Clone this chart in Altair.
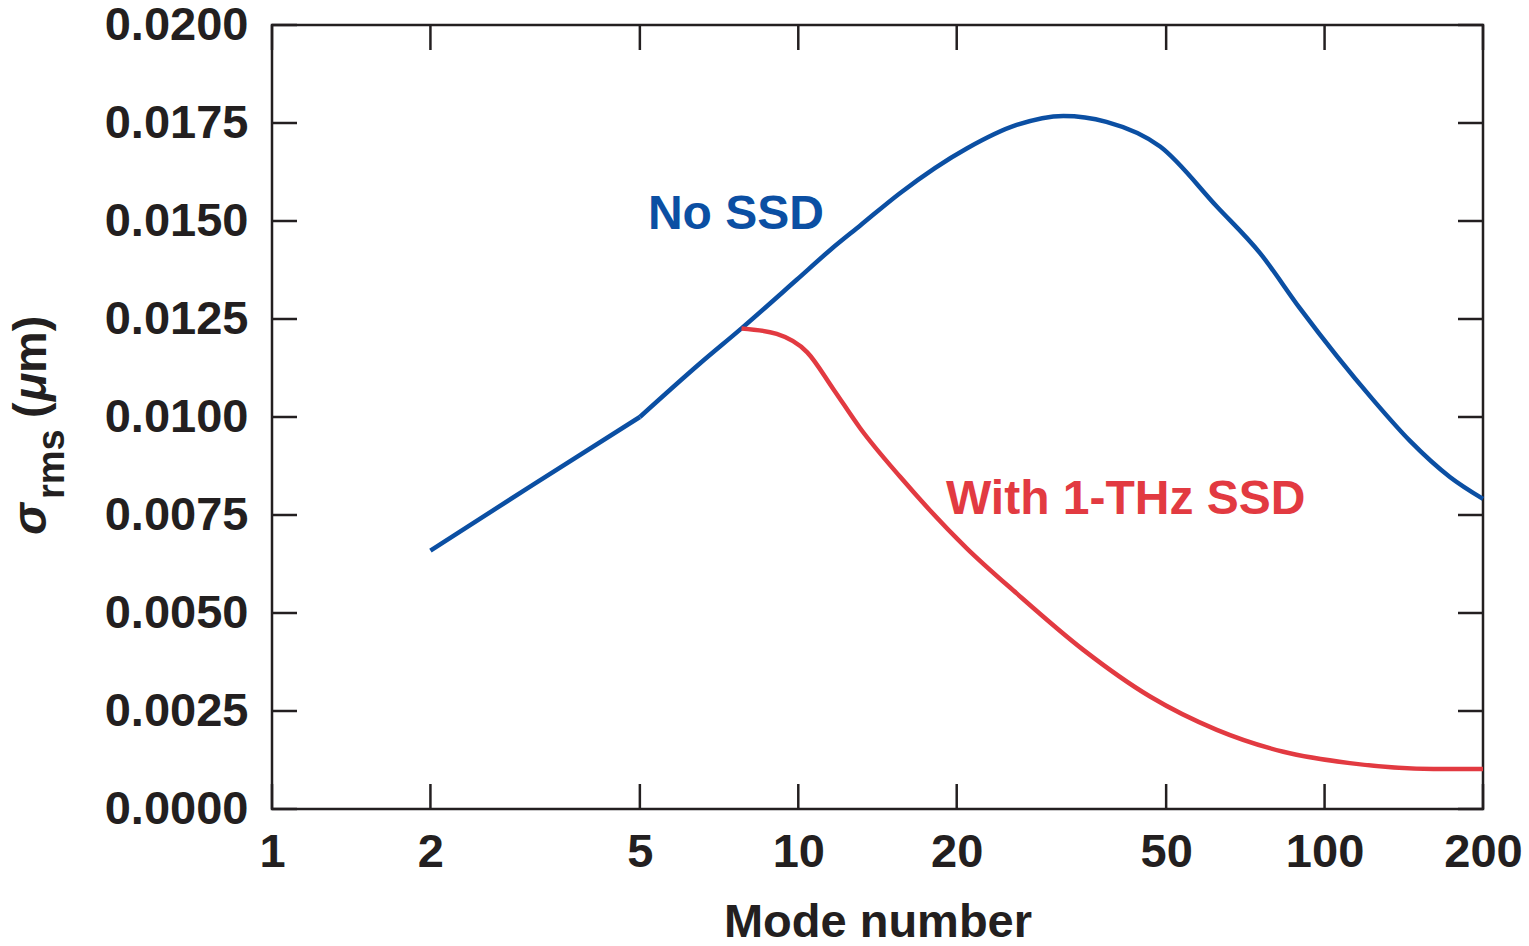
import altair as alt
import pandas as pd

# ---- data ----
# No SSD: nearly straight rise from mode 2 to 5, then a smooth hump
no_ssd_mode = [2, 3.13, 5, 6.51, 7.8, 9.93, 11.5, 13.1, 15.6, 20.9, 26.0, 31.9,
               38.5, 48.7, 62.4, 75.4, 89.8, 123.8, 145.3, 173, 200]
no_ssd_val = [0.00659, 0.00827, 0.0100, 0.01137, 0.01226, 0.0135, 0.01426,
              0.01488, 0.01571, 0.01685, 0.01745, 0.01768, 0.01753, 0.01690, 0.01537,
              0.01418, 0.01277, 0.01043, 0.00939, 0.00847, 0.00791]

ssd_mode = [7.8, 9.1, 10.4, 11.66, 13.1, 15.6, 20.9, 26.0, 34.8, 46.6, 62.4,
            83.5, 111.7, 161, 200]
ssd_val = [0.01226, 0.01212, 0.01165, 0.01071, 0.00972, 0.00848, 0.00665,
           0.00550, 0.00406, 0.00287, 0.00202, 0.00146, 0.00117, 0.00102, 0.00102]

x_ticks = [1, 2, 5, 10, 20, 50, 100, 200]
y_ticks = [0.0, 0.0025, 0.005, 0.0075, 0.01, 0.0125, 0.015, 0.0175, 0.02]

label_text = ["No SSD", "With 1-THz SSD"]
label_mode = [5.18, 19.08]
label_val = [0.014796, 0.007525]

BLUE = "#0b4fa3"
RED = "#e23a41"
INK = "#231f20"
FONT = "Liberation Sans"
W, H = 1211, 784
TL = 25

xs = alt.Scale(type="log", domain=[1, 200])
ys = alt.Scale(domain=[0, 0.02])

x_axis = alt.Axis(
    values=x_ticks, format="d", title="Mode number", ticks=False, domain=False,
    grid=False, labelFontSize=47, labelFontWeight="bold", labelColor=INK,
    labelFont=FONT, labelPadding=20, labelFlush=False, labelOverlap=False,
    titleFontSize=47, titleFontWeight="bold", titleColor=INK, titleFont=FONT,
    titlePadding=24)
y_axis = alt.Axis(
    values=y_ticks, format=".4f", title=None, ticks=False, domain=False,
    grid=False, labelFontSize=47, labelFontWeight="bold", labelColor=INK,
    labelFont=FONT, labelPadding=24, labelFlush=False, labelOverlap=False)

k = no_ssd_mode.index(5)
blue_straight = pd.DataFrame({"mode": no_ssd_mode[:k + 1], "val": no_ssd_val[:k + 1]})
blue_curve = pd.DataFrame({"mode": no_ssd_mode[k:], "val": no_ssd_val[k:]})
red_curve = pd.DataFrame({"mode": ssd_mode, "val": ssd_val})

line1 = alt.Chart(blue_straight).mark_line(
    strokeWidth=4.5, color=BLUE, interpolate="linear", strokeCap="butt"
).encode(x=alt.X("mode:Q", scale=xs, axis=x_axis), y=alt.Y("val:Q", scale=ys, axis=y_axis))
line2 = alt.Chart(blue_curve).mark_line(
    strokeWidth=4.5, color=BLUE, interpolate="monotone"
).encode(x=alt.X("mode:Q", scale=xs), y=alt.Y("val:Q", scale=ys))
line3 = alt.Chart(red_curve).mark_line(
    strokeWidth=4.5, color=RED, interpolate="monotone"
).encode(x=alt.X("mode:Q", scale=xs), y=alt.Y("val:Q", scale=ys))

labels = alt.Chart(pd.DataFrame({"t": label_text, "mode": label_mode, "val": label_val})).mark_text(
    align="left", baseline="alphabetic", fontSize=48, fontWeight="bold", font=FONT
).encode(
    x=alt.X("mode:Q", scale=xs), y=alt.Y("val:Q", scale=ys), text="t:N",
    color=alt.Color("t:N", scale=alt.Scale(domain=label_text, range=[BLUE, RED]), legend=None),
)

xt = pd.DataFrame({"mode": x_ticks})
yt = pd.DataFrame({"val": y_ticks})
tick_style = dict(color=INK, strokeWidth=2.5)
xt_bottom = alt.Chart(xt).mark_rule(**tick_style).encode(
    x=alt.X("mode:Q", scale=xs), y=alt.value(H), y2=alt.value(H - TL))
xt_top = alt.Chart(xt).mark_rule(**tick_style).encode(
    x=alt.X("mode:Q", scale=xs), y=alt.value(0), y2=alt.value(TL))
yt_left = alt.Chart(yt).mark_rule(**tick_style).encode(
    y=alt.Y("val:Q", scale=ys), x=alt.value(0), x2=alt.value(TL))
yt_right = alt.Chart(yt).mark_rule(**tick_style).encode(
    y=alt.Y("val:Q", scale=ys), x=alt.value(W), x2=alt.value(W - TL))

# y-axis title pieces: sigma, subscript rms, (mu m)
def title_piece(txt, x, y, size, style="normal"):
    return alt.Chart(pd.DataFrame({"t": [txt]})).mark_text(
        angle=270, align="left", baseline="alphabetic", fontSize=size,
        fontWeight="bold", fontStyle=style, font=FONT, color=INK
    ).encode(text="t:N", x=alt.value(x), y=alt.value(y))

ytitle = [
    title_piece("σ", -226, 510, 48, "italic"),
    title_piece("rms", -208, 474, 38),
    title_piece("(", -226, 393, 47),
    title_piece("μ", -226, 376, 47, "italic"),
    title_piece("m)", -226, 348, 47),
]

chart = alt.layer(
    line1, line2, line3, labels, xt_bottom, xt_top, yt_left, yt_right, *ytitle
).properties(
    width=W, height=H,
    autosize=alt.AutoSizeParams(type="none"),
    padding={"left": 272, "top": 25, "right": 46, "bottom": 137},
    background="white",
).configure_view(
    stroke=INK, strokeWidth=2.5
)

chart.save("out.html", embed_options={"renderer": "svg", "actions": False})
